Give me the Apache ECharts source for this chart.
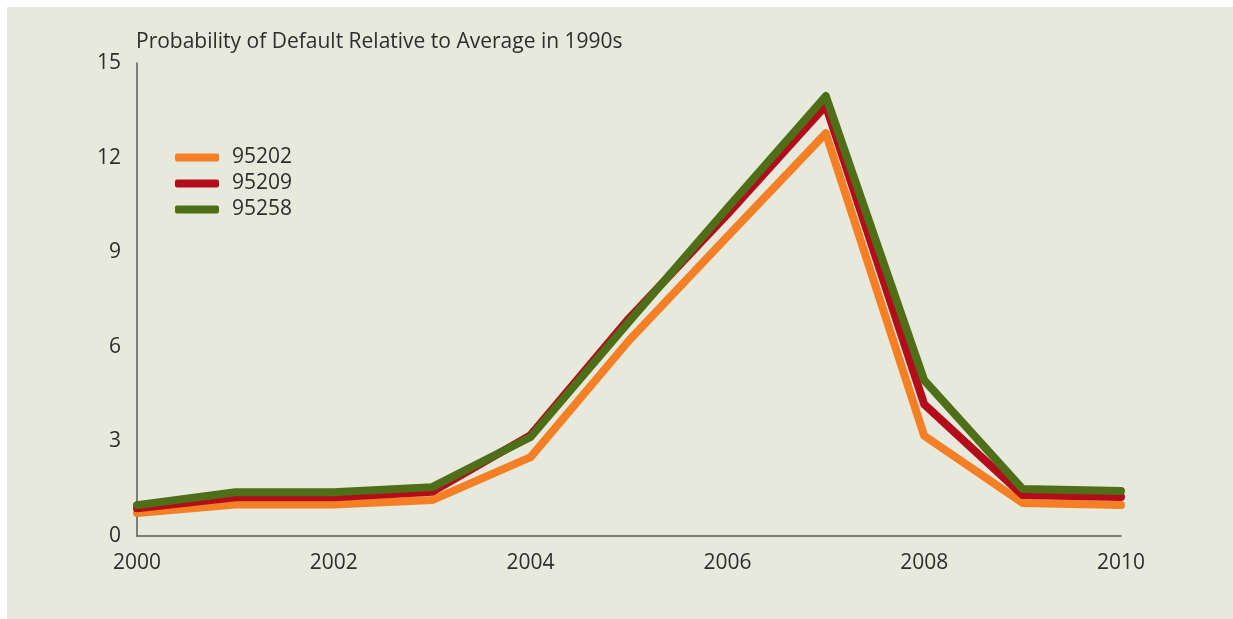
<!DOCTYPE html>
<html>
<head>
<meta charset="utf-8">
<script src="https://cdn.jsdelivr.net/npm/echarts@6/dist/echarts.min.js"></script>
<style>
html,body{margin:0;padding:0;background:#ffffff;}
#chart{width:1233px;height:619px;}
</style>
</head>
<body>
<div id="chart"></div>
<script>
const years = ['2000','2001','2002','2003','2004','2005','2006','2007','2008','2009','2010'];
const yTicks = [0, 3, 6, 9, 12, 15];
const seriesNames = ['95202', '95209', '95258'];
const s95202 = [0.73, 1.0, 1.0, 1.14, 2.5, 6.2, 9.5, 12.77, 3.18, 1.05, 0.98];
const s95209 = [0.88, 1.23, 1.23, 1.4, 3.2, 6.9, 10.2, 13.65, 4.18, 1.3, 1.24];
const s95258 = [0.98, 1.39, 1.39, 1.55, 3.14, 6.8, 10.4, 13.95, 4.94, 1.49, 1.43];
const titleText = 'Probability of Default Relative to Average in 1990s';

const colors = ['#f47f24', '#b30d1c', '#4e6e17'];
const font = '"Open Sans", Lato, sans-serif';
const textColor = '#2e2e2e';

const chart = echarts.init(document.getElementById('chart'), null, {renderer: 'canvas'});

function mk(name, data, color) {
  return {
    name: name,
    type: 'line',
    data: data,
    symbol: 'none',
    smooth: false,
    lineStyle: {width: 8, color: color, cap: 'round', join: 'round'},
    itemStyle: {color: color},
    emphasis: {disabled: true},
    animation: false
  };
}

chart.setOption({
  animation: false,
  backgroundColor: '#ffffff',
  graphic: [{
    type: 'rect',
    z: -10,
    shape: {x: 7, y: 7, width: 1226, height: 612},
    style: {fill: '#e6e9dc'}
  }],
  title: {
    text: titleText,
    left: 136,
    top: 32,
    padding: 0,
    textStyle: {fontFamily: font, fontSize: 21, fontWeight: 'normal', color: textColor}
  },
  legend: {
    orient: 'vertical',
    left: 175,
    top: 147,
    padding: 0,
    itemWidth: 44,
    itemHeight: 8,
    itemGap: 5,
    icon: 'roundRect',
    data: seriesNames,
    textStyle: {fontFamily: font, fontSize: 21, color: textColor, padding: [0, 0, 0, 8]}
  },
  grid: {left: 137, right: 112, top: 63, bottom: 83, containLabel: false},
  xAxis: {
    type: 'category',
    data: years,
    boundaryGap: false,
    axisLine: {show: true, lineStyle: {color: '#5a5a5a', width: 1.5}},
    axisTick: {show: false},
    axisLabel: {interval: 1, margin: 17, fontFamily: font, fontSize: 21, color: textColor},
    splitLine: {show: false}
  },
  yAxis: {
    type: 'value',
    min: yTicks[0],
    max: yTicks[yTicks.length - 1],
    interval: yTicks[1] - yTicks[0],
    axisLine: {show: true, lineStyle: {color: '#5a5a5a', width: 1.5}},
    axisTick: {show: false},
    axisLabel: {margin: 16, fontFamily: font, fontSize: 21, color: textColor},
    splitLine: {show: false}
  },
  series: [
    mk(seriesNames[0], s95202, colors[0]),
    mk(seriesNames[1], s95209, colors[1]),
    mk(seriesNames[2], s95258, colors[2])
  ]
});
</script>
</body>
</html>
